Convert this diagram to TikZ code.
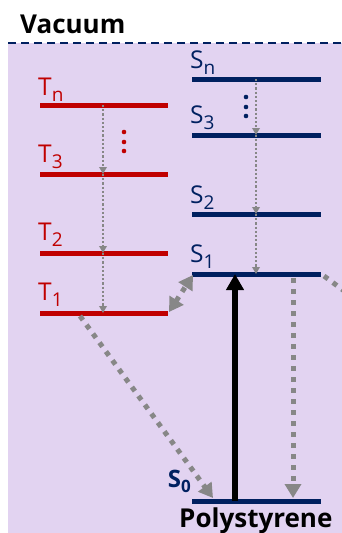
\documentclass[tikz,border=0pt]{standalone}
\usepackage{fontspec}
\setmainfont{Open Sans}
\usetikzlibrary{arrows.meta}
\definecolor{tred}{HTML}{C00000}
\definecolor{snavy}{HTML}{002060}
\definecolor{bgpurple}{HTML}{E2D3F1}
\definecolor{agray}{HTML}{878787}
\tikzset{
  tlevel/.style={draw=tred,line width=5pt},
  slevel/.style={draw=snavy,line width=5pt},
  thindot/.style={draw=agray,line width=2.2pt,dash pattern=on 2.2pt off 2pt,-{Triangle[width=7.5pt,length=7pt]},color=agray},
  thickdot/.style={draw=agray,line width=5pt,dash pattern=on 5pt off 6pt,color=agray},
  bigtip/.style={-{Triangle[width=16pt,length=14pt]}},
  lab/.style={anchor=base west,inner sep=0pt,font=\fontsize{24.5}{24.5}\selectfont},
  blab/.style={anchor=base west,inner sep=0pt,font=\bfseries\fontsize{26}{26}\selectfont},
}
\newcommand{\sub}[1]{\raisebox{-6pt}{\fontsize{19}{19}\selectfont #1}}
\begin{document}
\begin{tikzpicture}[x=1pt,y=-1pt]
\useasboundingbox (0,0) rectangle (341,533);
\fill[bgpurple] (8,43) rectangle (345,540);
\draw[snavy,line width=2pt,dash pattern=on 8pt off 5pt] (8,43) -- (345,43);
\node[blab] (vac) at (20,33) {Vacuum};
% triplet levels
\foreach \n/\y in {tn/105,tt/174,ttwo/253,tone/313}{
  \coordinate (\n-l) at (40,\y);
  \coordinate (\n-r) at (168,\y);
  \coordinate (\n-m) at (103,\y);
  \draw[tlevel] (\n-l) -- (\n-r);
}
% singlet levels
\foreach \n/\y in {sn/79,st/135,stwo/214,sone/274,szero/501}{
  \coordinate (\n-l) at (192,\y);
  \coordinate (\n-r) at (321,\y);
  \coordinate (\n-m) at (256,\y);
  \draw[slevel] (\n-l) -- (\n-r);
}
% labels
\node[lab,text=tred] (ltn) at (38,95) {T\sub{n}};
\node[lab,text=tred] (ltt) at (38,162) {T\sub{3}};
\node[lab,text=tred] (lttwo) at (38,240) {T\sub{2}};
\node[lab,text=tred] (ltone) at (38,300) {T\sub{1}};
\node[lab,text=snavy] (lsn) at (190,68) {S\sub{n}};
\node[lab,text=snavy] (lst) at (190,123) {S\sub{3}};
\node[lab,text=snavy] (lstwo) at (190,203) {S\sub{2}};
\node[lab,text=snavy] (lsone) at (190,262) {S\sub{1}};
\node[anchor=base east,inner sep=0pt,text=snavy,font=\bfseries\fontsize{24}{24}\selectfont] (lszero) at (191,487) {S\raisebox{-5pt}{\fontsize{17}{17}\selectfont 0}};
\node[blab] (poly) at (179,527) {Polystyrene};
% ellipsis dots
\foreach \y in {132,142,151}{\fill[tred] (124,\y) circle (2.3pt);}
\foreach \y in {97,107,116}{\fill[snavy] (246,\y) circle (2.3pt);}
% thin relaxation arrows
\draw[thindot] (tn-m) -- (tt-m);
\draw[thindot] (tt-m) -- (ttwo-m);
\draw[thindot] (ttwo-m) -- (tone-m);
\draw[thindot] (sn-m) -- (st-m);
\draw[thindot] (st-m) -- (stwo-m);
\draw[thindot] (stwo-m) -- (sone-m);
% thick arrows
\coordinate (isc-a) at (169,312);
\coordinate (isc-b) at (193,275);
\draw[thickdot,{Triangle[width=16pt,length=14pt]}-{Triangle[width=16pt,length=14pt]}] (isc-a) -- (isc-b);
\coordinate (ph-a) at (80,316);
\coordinate (ph-b) at (213,498);
\draw[thickdot,bigtip] (ph-a) -- (ph-b);
\coordinate (fl-a) at (293,278);
\coordinate (fl-b) at (293,498);
\draw[thickdot,bigtip] (fl-a) -- (fl-b);
\coordinate (out-a) at (324,276);
\coordinate (out-b) at (370,310);
\draw[thickdot] (out-a) -- (out-b);
% excitation
\coordinate (ex-a) at (235,501);
\coordinate (ex-b) at (235,274);
\draw[black,line width=6pt,-{Triangle[width=17pt,length=16pt]}] (ex-a) -- (ex-b);
\end{tikzpicture}
\end{document}
